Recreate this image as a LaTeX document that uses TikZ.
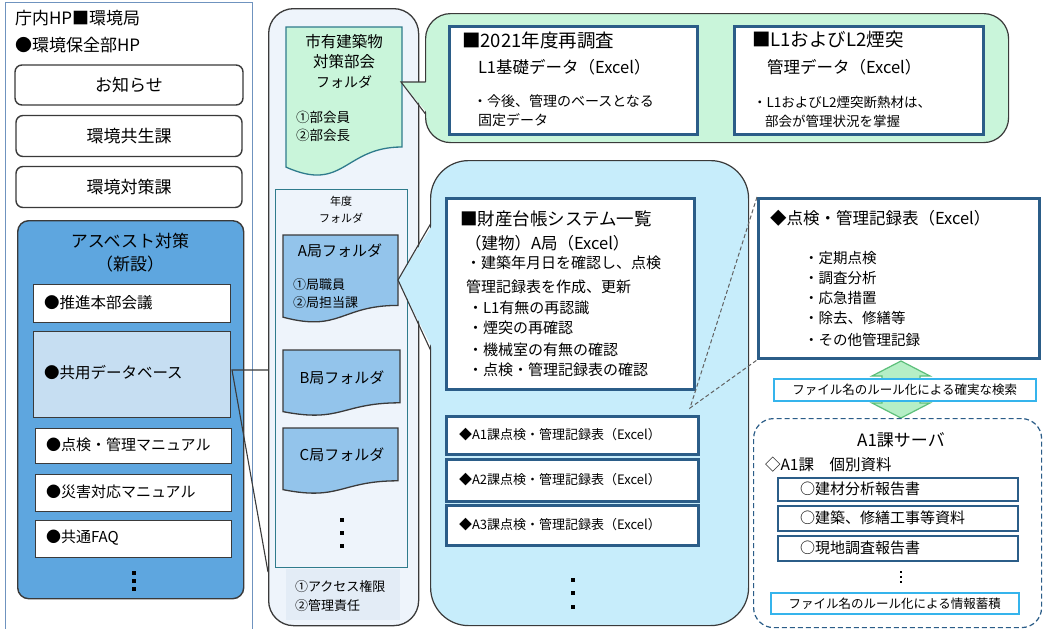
\documentclass[tikz,border=0pt]{standalone}
\usepackage{fontspec}
\setmainfont{Noto Sans CJK JP}
\usetikzlibrary{arrows.meta}
\definecolor{panelline}{HTML}{6F93BF}
\definecolor{asb}{HTML}{5EA6DF}
\definecolor{dbfill}{HTML}{C6DEF2}
\definecolor{colfill}{HTML}{EEF4FB}
\definecolor{tealb}{HTML}{2F7B8C}
\definecolor{mint}{HTML}{C9F5DA}
\definecolor{fold}{HTML}{93C4EB}
\definecolor{cyanfill}{HTML}{C7EDFB}
\definecolor{steel}{HTML}{2B5D88}
\definecolor{cyanline}{HTML}{35B4EC}
\definecolor{arrowfill}{HTML}{B5EFC6}
\definecolor{arrowline}{HTML}{5CBF7A}
\definecolor{dk}{HTML}{3A3A3A}
\definecolor{bandfill}{HTML}{E3ECF6}
\newcommand{\myfs}[1]{\fontsize{#1}{#1}\selectfont}
% document shape: x1, top, x2, h, style
\newcommand{\mydoc}[5]{\draw[#5] (#1,#2) -- (#3,#2) -- (#3,{#2+0.8*#4}) .. controls ({(#1+#3)/2},{#2+0.8*#4}) and ({(#1+#3)/2},{#2+1.107*#4}) .. (#1,{#2+0.934*#4}) -- cycle;}
\newcommand{\mydot}[3]{\fill[black] ({#1-#3},{#2-#3}) rectangle ({#1+#3},{#2+#3});}
\begin{document}
\begin{tikzpicture}[x=1pt,y=-1pt,
  txt/.style={inner sep=0pt, outer sep=0pt},
  menubox/.style={draw=dk, line width=1.4pt, rounded corners=7pt, fill=white, inner sep=0pt, font=\myfs{17}},
  itembox/.style={draw=dk, line width=1.3pt, fill=white, inner sep=0pt, anchor=north west},
  steelbox/.style={draw=steel, line width=3pt, fill=white, inner sep=0pt, anchor=north west},
  thinsteel/.style={draw=steel, line width=1.5pt, fill=white, inner sep=0pt, anchor=north west},
  cyanbox/.style={draw=cyanline, line width=1.5pt, fill=white, inner sep=0pt, anchor=north west, font=\myfs{12.5}},
  conn/.style={draw=dk, line width=1.1pt},
]
\useasboundingbox (0,0) rectangle (1044,629);
\fill[white] (0,0) rectangle (1044,629);

% ---------------- left panel
\draw[panelline, line width=1pt] (5,640) -- (5,2) -- (252,2) -- (252,640);
\node[txt, anchor=west] (hp1) at (15,18) {\myfs{17}庁内HP■環境局};
\node[txt, anchor=west] (hp2) at (15,45) {\myfs{17}●環境保全部HP};
\node[menubox, minimum width=228pt, minimum height=40pt] (osh) at (129,85) {お知らせ};
\node[menubox, minimum width=226pt, minimum height=41pt] (kyo) at (129,136) {環境共生課};
\node[menubox, minimum width=226pt, minimum height=41pt] (tai) at (129,187) {環境対策課};

\node[draw=dk, line width=1.4pt, fill=asb, rounded corners=11pt, minimum width=226pt, minimum height=378pt, anchor=north west, inner sep=0pt] (asbbox) at (17,220) {};
\node[txt] (asbt1) at (130,241) {\myfs{17}アスベスト対策};
\node[txt] (asbt2) at (130,264) {\myfs{17}（新設）};
\node[itembox, minimum width=197pt, minimum height=38pt] (sui) at (33,284) {};
\node[txt, anchor=west] (suit) at (44,303) {\myfs{15.5}●推進本部会議};
\node[itembox, fill=dbfill, minimum width=197pt, minimum height=86pt] (db) at (33,331) {};
\node[txt, anchor=west] (dbt) at (44,373) {\myfs{15.5}●共用データベース};
\node[itembox, minimum width=196pt, minimum height=35pt] (ten) at (35,428) {};
\node[txt, anchor=west] (tent) at (46,445) {\myfs{15}●点検・管理マニュアル};
\node[itembox, minimum width=196pt, minimum height=37pt] (sai) at (35,474) {};
\node[txt, anchor=west] (sait) at (46,492) {\myfs{15}●災害対応マニュアル};
\node[itembox, minimum width=196pt, minimum height=37pt] (faq) at (35,520) {};
\node[txt, anchor=west] (faqt) at (46,538) {\myfs{15}●共通FAQ};
\mydot{134}{573}{1.8}\mydot{134}{581}{1.8}\mydot{134}{589}{1.8}

% ---------------- second column
\node[draw=dk, line width=1.3pt, fill=colfill, rounded corners=25pt, minimum width=150pt, minimum height=617pt, anchor=north west, inner sep=0pt] (col) at (268,8) {};
\mydoc{286}{27}{402}{150}{draw=tealb, line width=1.3pt, fill=mint}
\node[txt] (g1) at (344,42) {\myfs{15.5}市有建築物};
\node[txt] (g2) at (344,62) {\myfs{15.5}対策部会};
\node[txt] (g3) at (344,82) {\myfs{14}フォルダ};
\node[txt, anchor=west] (g4) at (296,117) {\myfs{13.5}①部会員};
\node[txt, anchor=west] (g5) at (296,135) {\myfs{13.5}②部会長};

\node[draw=tealb, line width=1.2pt, fill=colfill, minimum width=132pt, minimum height=378pt, anchor=north west, inner sep=0pt] (nendo) at (275,189) {};
\node[txt] (n1) at (341,201) {\myfs{11}年度};
\node[txt] (n2) at (341,218) {\myfs{11}フォルダ};
\mydoc{283}{235}{398}{88}{draw=dk, line width=1.3pt, fill=fold}
\node[txt] (a1) at (340,251) {\myfs{15}A局フォルダ};
\node[txt, anchor=west] (a2) at (293,285) {\myfs{13}①局職員};
\node[txt, anchor=west] (a3) at (293,303) {\myfs{13}②局担当課};
\mydoc{283}{350}{400}{66}{draw=dk, line width=1.3pt, fill=fold}
\node[txt] (b1) at (342,378) {\myfs{15}B局フォルダ};
\mydoc{283}{428}{398}{66}{draw=dk, line width=1.3pt, fill=fold}
\node[txt] (c1) at (342,455) {\myfs{15}C局フォルダ};
\mydot{342}{520}{2.4}\mydot{342}{533}{2.4}\mydot{342}{546}{2.4}
\fill[bandfill] (286,569) rectangle (400,620);
\node[txt, anchor=west] (k1) at (295,587) {\myfs{13}①アクセス権限};
\node[txt, anchor=west] (k2) at (295,606) {\myfs{13}②管理責任};

% DB callout lines
\coordinate (dbtip) at (232,370);
\coordinate (colA) at (268,370);
\coordinate (colB) at (268,572);
\draw[conn] (colA) -- (dbtip) -- (colB);

% ---------------- top green callout
\node[draw=dk, line width=1.2pt, fill=mint, rounded corners=25pt, minimum width=583pt, minimum height=129pt, anchor=north west, inner sep=0pt] (green) at (425,13) {};
\coordinate (gtip) at (401,82);
\fill[mint] (gtip) -- (428,82) -- (428,114) -- cycle;
\draw[conn] (425.5,82) -- (gtip) -- (425.5,114);

\node[steelbox, minimum width=248pt, minimum height=108pt] (l1box) at (448,25) {};
\node[txt, anchor=west] (l1a) at (462,40) {\myfs{18.5}■2021年度再調査};
\node[txt, anchor=west] (l1b) at (478,67) {\myfs{16.5}L1基礎データ（Excel）};
\node[txt, anchor=west] (l1c) at (473,101) {\myfs{14}・今後、管理のベースとなる};
\node[txt, anchor=west] (l1d) at (478,120) {\myfs{14}固定データ};

\node[steelbox, minimum width=249pt, minimum height=108pt] (l2box) at (733,25) {};
\node[txt, anchor=west] (l2a) at (752,39) {\myfs{18.5}■L1およびL2煙突};
\node[txt, anchor=west] (l2b) at (767,67) {\myfs{16.5}管理データ（Excel）};
\node[txt, anchor=west] (l2c) at (753,102) {\myfs{13.5}・L1およびL2煙突断熱材は、};
\node[txt, anchor=west] (l2d) at (765,121) {\myfs{13.5}部会が管理状況を掌握};

% ---------------- middle callout
\node[draw=dk, line width=1.2pt, fill=cyanfill, rounded corners=38pt, minimum width=318pt, minimum height=465pt, anchor=north west, inner sep=0pt] (mid) at (430,160) {};
\coordinate (mtip) at (398,280);
\fill[cyanfill] (mtip) -- (433,224) -- (433,350) -- cycle;
\draw[conn] (430.5,224) -- (mtip) -- (430.5,350);

\node[steelbox, minimum width=248pt, minimum height=191pt] (zai) at (445,197) {};
\node[txt, anchor=west] (z1) at (460,219) {\myfs{17.5}■財産台帳システム一覧};
\node[txt, anchor=west] (z2) at (465,243) {\myfs{16.5}（建物）A局（Excel）};
\node[txt, anchor=west] (z3) at (466,263) {\myfs{15}・建築年月日を確認し、点検};
\node[txt, anchor=west] (z4) at (466,287) {\myfs{15}管理記録表を作成、更新};
\node[txt, anchor=west] (z5) at (468,308) {\myfs{15}・L1有無の再認識};
\node[txt, anchor=west] (z6) at (468,328) {\myfs{15}・煙突の再確認};
\node[txt, anchor=west] (z7) at (468,350) {\myfs{15}・機械室の有無の確認};
\node[txt, anchor=west] (z8) at (468,370) {\myfs{15}・点検・管理記録表の確認};

\node[steelbox, minimum width=252pt, minimum height=38pt] (ka1) at (445,415) {};
\node[txt, anchor=west] (ka1t) at (459,435) {\myfs{13}◆A1課点検・管理記録表（Excel）};
\node[steelbox, minimum width=252pt, minimum height=42pt] (ka2) at (445,458) {};
\node[txt, anchor=west] (ka2t) at (459,480) {\myfs{13}◆A2課点検・管理記録表（Excel）};
\node[steelbox, minimum width=252pt, minimum height=40pt] (ka3) at (445,504) {};
\node[txt, anchor=west] (ka3t) at (459,525) {\myfs{13}◆A3課点検・管理記録表（Excel）};
\mydot{573}{580}{2.4}\mydot{573}{593}{2.4}\mydot{573}{607}{2.4}

% ---------------- right side
\node[steelbox, minimum width=281pt, minimum height=160pt] (kiroku) at (757,197) {};
\coordinate (dtip) at (690,408);
\draw[draw=dk!80, line width=1pt, dash pattern=on 4pt off 2.5pt] (kiroku.north west) -- (dtip) -- (kiroku.south west);
\node[txt, anchor=west] (r0) at (770,218) {\myfs{16.5}◆点検・管理記録表（Excel）};
\node[txt, anchor=west] (r1) at (804,258) {\myfs{14.5}・定期点検};
\node[txt, anchor=west] (r2) at (804,278) {\myfs{14.5}・調査分析};
\node[txt, anchor=west] (r3) at (804,298) {\myfs{14.5}・応急措置};
\node[txt, anchor=west] (r4) at (804,318) {\myfs{14.5}・除去、修繕等};
\node[txt, anchor=west] (r5) at (804,340) {\myfs{14.5}・その他管理記録};

% green double arrow
\filldraw[fill=arrowfill, draw=arrowline, line width=1.2pt]
  (901,361) -- (930,376) -- (920,376) -- (920,403) -- (930,403) -- (901,418)
  -- (872,403) -- (882,403) -- (882,376) -- (872,376) -- cycle;
\node[cyanbox, minimum width=262pt, minimum height=22pt] (kensaku) at (773,378) {ファイル名のルール化による確実な検索};

% A1 server
\node[draw=steel, line width=1.2pt, dash pattern=on 5pt off 3pt, rounded corners=20pt, minimum width=288pt, minimum height=209pt, anchor=north west, inner sep=0pt] (server) at (753,418) {};
\node[txt] (s0) at (901,440) {\myfs{17}A1課サーバ};
\node[txt, anchor=west] (s1) at (765,465) {\myfs{15.5}◇A1課　個別資料};
\node[thinsteel, minimum width=240pt, minimum height=23pt] (sb1) at (777,477) {};
\node[txt, anchor=west] (sb1t) at (800,489) {\myfs{15}○建材分析報告書};
\node[thinsteel, minimum width=240pt, minimum height=25pt] (sb2) at (777,505) {};
\node[txt, anchor=west] (sb2t) at (800,518) {\myfs{15}○建築、修繕工事等資料};
\node[thinsteel, minimum width=240pt, minimum height=25pt] (sb3) at (777,535) {};
\node[txt, anchor=west] (sb3t) at (800,548) {\myfs{15}○現地調査報告書};
\mydot{901}{572}{1.2}\mydot{901}{577}{1.2}\mydot{901}{582}{1.2}
\node[cyanbox, minimum width=248pt, minimum height=21pt] (chiku) at (770,592) {ファイル名のルール化による情報蓄積};
\end{tikzpicture}
\end{document}
